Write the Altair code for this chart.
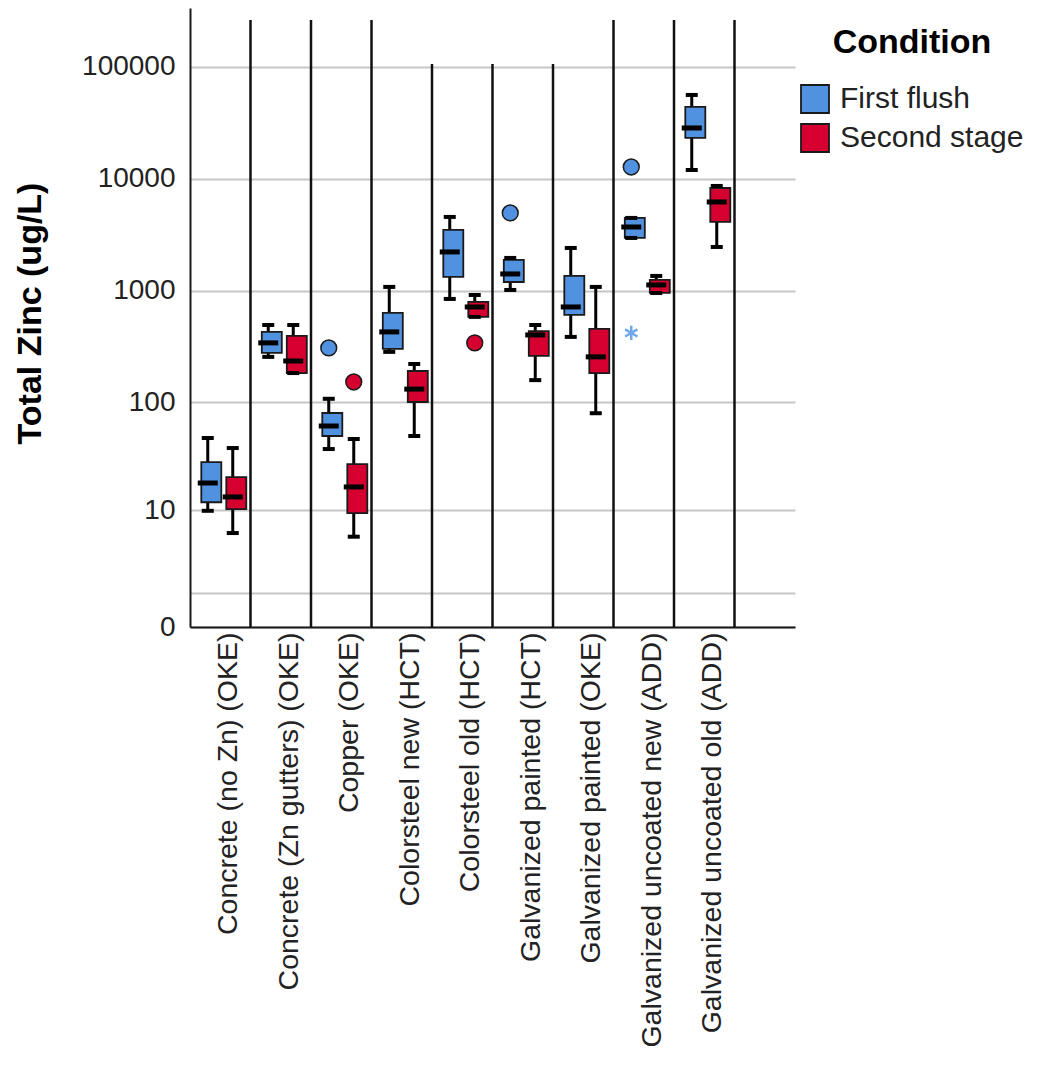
import altair as alt
import pandas as pd

# ---------------- data ----------------
materials = [
    "Concrete (no Zn) (OKE)",
    "Concrete (Zn gutters) (OKE)",
    "Copper (OKE)",
    "Colorsteel new (HCT)",
    "Colorsteel old (HCT)",
    "Galvanized painted (HCT)",
    "Galvanized painted (OKE)",
    "Galvanized uncoated new (ADD)",
    "Galvanized uncoated old (ADD)",
]
conditions = ["First flush", "Second stage"]

# First flush box statistics
ff_low = [9.9, 257, 37.8, 285, 848, 1020, 388, 2974, 12030]
ff_q1 = [12, 279, 49.7, 303, 1333, 1202, 610, 2974, 23230]
ff_med = [18.3, 343, 61.3, 430, 2230, 1418, 719, 3725, 28520]
ff_q3 = [28.7, 430, 80.4, 636, 3505, 1891, 1361, 4487, 43950]
ff_high = [47.7, 496, 108, 1086, 4580, 1971, 2420, 4487, 56230]

# Second stage box statistics
ss_low = [5.9, 184, 5.4, 49.7, 586, 159, 80, 959, 2470]
ss_q1 = [10.3, 184, 9.4, 101, 586, 262, 184, 959, 4130]
ss_med = [13.5, 236, 16.8, 132, 719, 404, 257, 1131, 6230]
ss_q3 = [20.8, 396, 27.5, 192, 797, 437, 458, 1253, 8300]
ss_high = [38.6, 496, 46.7, 222, 920, 496, 1086, 1361, 8660]

# outliers (circles)
out_material = [
    "Copper (OKE)",
    "Copper (OKE)",
    "Colorsteel old (HCT)",
    "Galvanized painted (HCT)",
    "Galvanized uncoated new (ADD)",
]
out_condition = ["First flush", "Second stage", "Second stage", "First flush", "First flush"]
out_value = [309, 153, 343, 4970, 12790]

# extreme values (stars)
ext_material = ["Galvanized uncoated new (ADD)"]
ext_condition = ["First flush"]
ext_value = [421]

# category separator lines (left edges of categories 2..10) and their extents
sep_material = materials[1:] + [" "]
sep_bottom = [0, 0, 0, 0, 0, 0, 0, 0, 0]
sep_top = [263000, 263000, 263000, 106000, 106000, 106000, 263000, 263000, 263000]

y_ticks = [0, 1, 10, 100, 1000, 10000, 100000]

# ---------------- tables ----------------
rows = []
for i, m in enumerate(materials):
    rows.append(dict(material=m, condition=conditions[0], low=ff_low[i], q1=ff_q1[i],
                     med=ff_med[i], q3=ff_q3[i], high=ff_high[i]))
    rows.append(dict(material=m, condition=conditions[1], low=ss_low[i], q1=ss_q1[i],
                     med=ss_med[i], q3=ss_q3[i], high=ss_high[i]))
df = pd.DataFrame(rows)
out_df = pd.DataFrame(dict(material=out_material, condition=out_condition, value=out_value))
ext_df = pd.DataFrame(dict(material=ext_material, condition=ext_condition, value=ext_value))
sep_df = pd.DataFrame(dict(material=sep_material, bottom=sep_bottom, top=sep_top))

FONT = "Liberation Sans"
DARK = "#1a1a1a"
YTITLE = "Total Zinc (ug/L)"

x_scale = alt.Scale(domain=materials + [" "], paddingInner=0, paddingOuter=0)
y_scale = alt.Scale(type="symlog", constant=1, domain=[0, 336000], nice=False)
xoff_scale = alt.Scale(domain=conditions, paddingInner=0, paddingOuter=0.21)
color_scale = alt.Scale(domain=conditions, range=["#5192E0", "#D5002F"])

x_axis = alt.Axis(
    labelAngle=270, labelAlign="right", labelBaseline="middle",
    labelFont=FONT, labelFontSize=28.5, labelColor="#222222",
    labelPadding=5, labelOffset=8, labelLimit=1000,
    ticks=False, tickSize=0, domainColor=DARK, domainWidth=2, grid=False,
)
y_axis = alt.Axis(
    values=y_ticks, format="d",
    labelExpr="datum.value == 1 ? '' : datum.label",
    labelFont=FONT, labelFontSize=28, labelColor="#222222", labelPadding=15,
    ticks=False, tickSize=0, domainColor=DARK, domainWidth=2,
    grid=True, gridColor="#c6c6c6", gridWidth=2,
    titleFont=FONT, titleFontSize=34, titleFontWeight="bold", titleColor="#000000",
    titleAngle=270, titleAlign="center", titleBaseline="middle",
    titleX=-160, titleY=305,
)
legend = alt.Legend(
    orient="none", legendX=610, legendY=18, title="Condition",
    titleFont=FONT, titleFontSize=34, titleFontWeight="bold", titleColor="#000000",
    titleAnchor="middle", titlePadding=24, titleLimit=400,
    labelFont=FONT, labelFontSize=30, labelColor="#222222", labelOffset=10,
    labelLimit=400,
    symbolType="square", symbolSize=784, symbolStrokeColor=DARK,
    symbolStrokeWidth=1.8, symbolOpacity=1, rowPadding=3,
)

X = alt.X("material:N", scale=x_scale, axis=x_axis, title=None)
XO = alt.XOffset("condition:N", scale=xoff_scale)

base = alt.Chart(df).encode(x=X, xOffset=XO)

separators = alt.Chart(sep_df).mark_rule(color="#111111", strokeWidth=2.5).encode(
    x=alt.X("material:N", scale=x_scale, bandPosition=0, axis=x_axis, title=None),
    y=alt.Y("bottom:Q", scale=y_scale, axis=y_axis, title=YTITLE),
    y2=alt.Y2("top:Q"),
)

whiskers = base.mark_rule(color="black", strokeWidth=3).encode(
    y=alt.Y("low:Q", scale=y_scale, axis=y_axis, title=YTITLE),
    y2="high:Q",
)
boxes = base.mark_bar(width=alt.RelativeBandSize(0.8), stroke=DARK, strokeWidth=1.8, opacity=1).encode(
    y=alt.Y("q1:Q", scale=y_scale, axis=y_axis, title=YTITLE),
    y2="q3:Q",
    color=alt.Color("condition:N", scale=color_scale, legend=legend),
)
medians = base.mark_tick(color="black", thickness=5, size=20, opacity=1).encode(
    y=alt.Y("med:Q", scale=y_scale, axis=y_axis, title=YTITLE))
caps_low = base.mark_tick(color="black", thickness=4, size=12, opacity=1).encode(
    y=alt.Y("low:Q", scale=y_scale, axis=y_axis, title=YTITLE))
caps_high = base.mark_tick(color="black", thickness=4, size=12, opacity=1).encode(
    y=alt.Y("high:Q", scale=y_scale, axis=y_axis, title=YTITLE))

outliers = alt.Chart(out_df).mark_point(
    filled=True, size=250, stroke=DARK, strokeWidth=1.5, opacity=1
).encode(
    x=X, xOffset=XO,
    y=alt.Y("value:Q", scale=y_scale, axis=y_axis, title=YTITLE),
    fill=alt.Fill("condition:N", scale=color_scale, legend=None),
)
extremes = alt.Chart(ext_df).mark_point(
    shape="M0,-1L0,1M-0.87,-0.5L0.87,0.5M-0.87,0.5L0.87,-0.5",
    filled=False, size=200, strokeWidth=2.5, color="#6FA6EC", opacity=1,
).encode(x=X, xOffset=XO,
         y=alt.Y("value:Q", scale=y_scale, axis=y_axis, title=YTITLE))

chart = alt.layer(
    separators, whiskers, boxes, medians, caps_low, caps_high, outliers, extremes
).properties(
    width=605, height=619,
    autosize=alt.AutoSizeParams(type="none"),
    padding={"left": 182, "top": 0, "right": 236, "bottom": 433},
    background="white",
).configure_view(stroke=None)

chart.save("out.html", embed_options={"renderer": "svg", "actions": False})
